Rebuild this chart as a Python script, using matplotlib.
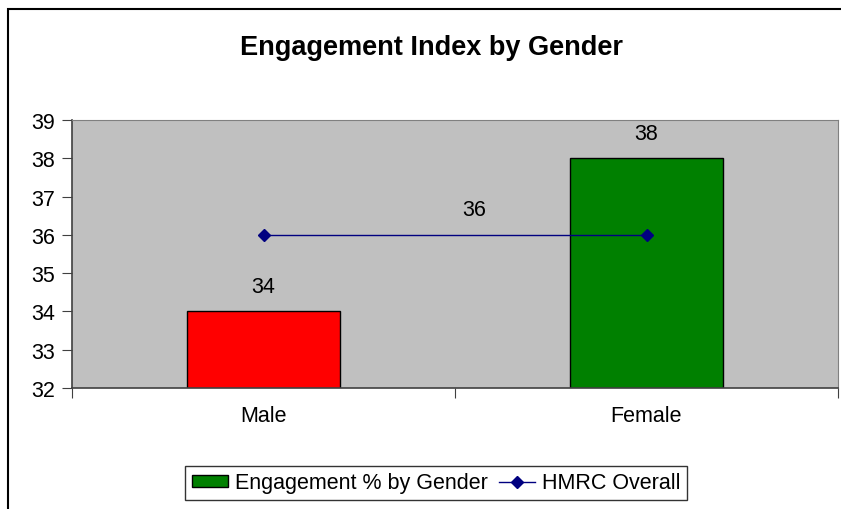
import numpy as np
import matplotlib.pyplot as plt
from matplotlib.patches import Rectangle
from matplotlib.lines import Line2D

plt.rcParams['font.family'] = ['Liberation Sans', 'DejaVu Sans']

# data
genders = ['Male', 'Female']
engagement = [34, 38]
hmrc_overall = [36, 36]
y_ticks = [32, 33, 34, 35, 36, 37, 38, 39]

W, H = 841, 510
fig = plt.figure(figsize=(W / 100, H / 100), dpi=100)
ax = fig.add_axes([72 / W, 1 - 389 / H, (838 - 72) / W, (389 - 121) / H])

# outer chart border (cut off at right and bottom)
fig.patches.append(Rectangle((8 / W, -0.2), 2, 1 - 10 / H + 0.2, transform=fig.transFigure,
                             fill=False, edgecolor='black', linewidth=1.5))

x = np.arange(len(genders))
bars = ax.bar(x, engagement, width=0.4, color=['#FF0000', '#008000'],
              edgecolor='black', linewidth=1.0, zorder=2)
line, = ax.plot(x, hmrc_overall, color='#000080', marker='D', markersize=6,
                linewidth=1.0, zorder=3)

ax.set_facecolor('#C0C0C0')
ax.set_xlim(-0.5, 1.5)
ax.set_ylim(32, 39)
ax.set_yticks(y_ticks)
ax.set_yticklabels([str(t) for t in y_ticks], fontsize=15.5)

# category ticks sit between categories, labels at the centres
ax.set_xticks([-0.5, 0.5, 1.5])
ax.set_xticklabels([])
ax.set_xticks(x, minor=True)
ax.set_xticklabels(genders, minor=True, fontsize=15.5)
ax.tick_params(axis='x', which='minor', length=0, pad=12)
ax.tick_params(axis='x', which='major', length=7, direction='out', color='#404040')
ax.tick_params(axis='y', length=7, direction='out', pad=5, color='#404040')

for side in ['top', 'right']:
    ax.spines[side].set_color('#808080')
for side in ['left', 'bottom']:
    ax.spines[side].set_color('#404040')
    ax.spines[side].set_linewidth(1.2)

# data labels
for xi, v in zip(x, engagement):
    ax.annotate(str(v), (xi, v), xytext=(0, 18), textcoords='offset points',
                ha='center', va='center', fontsize=15.5)
ax.annotate(str(hmrc_overall[0]), (0.55, hmrc_overall[0]), xytext=(0, 18),
            textcoords='offset points', ha='center', va='center', fontsize=15.5)

fig.text(432 / W, 1 - 48 / H, 'Engagement Index by Gender', ha='center', va='center',
         fontsize=19.5, fontweight='bold')

handles = [Rectangle((0, 0), 1, 1, facecolor='#008000', edgecolor='black', linewidth=1.0),
           Line2D([], [], color='#000080', marker='D', markersize=6, linewidth=1.0)]
leg = fig.legend(handles, ['Engagement % by Gender', 'HMRC Overall'],
                 loc='center', bbox_to_anchor=(436 / W, 1 - 484 / H), ncol=2,
                 fontsize=15.5, frameon=True, fancybox=False, handlelength=1.7,
                 handleheight=0.45, handletextpad=0.3, columnspacing=0.5,
                 borderpad=0.3, borderaxespad=0)
leg.get_frame().set_edgecolor('black')
leg.get_frame().set_linewidth(1.0)

fig.savefig('out.png', dpi=100)
